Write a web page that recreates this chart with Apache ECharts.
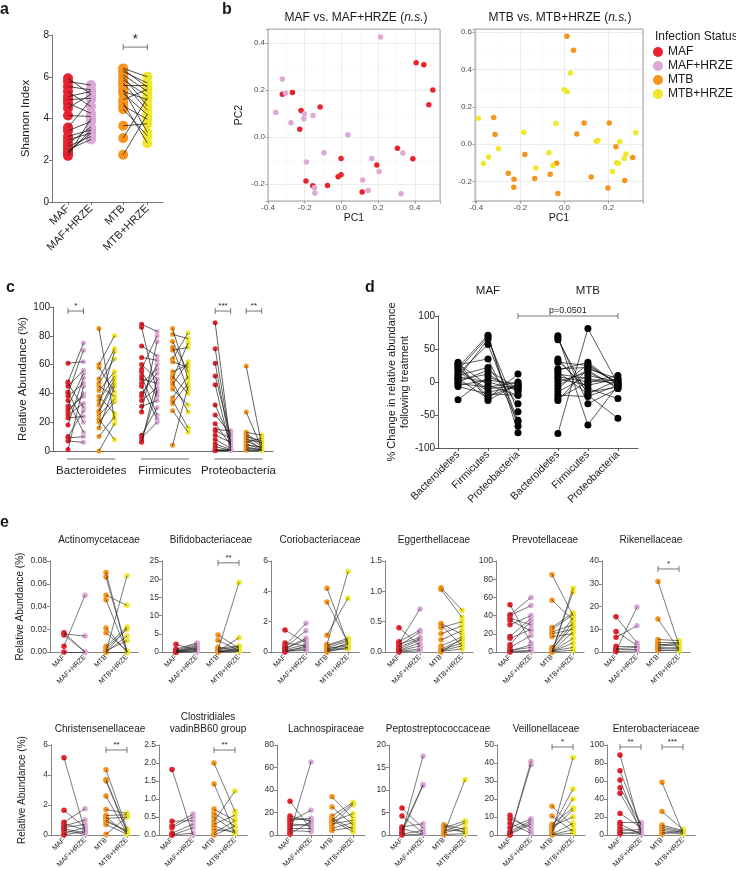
<!DOCTYPE html>
<html>
<head>
<meta charset="utf-8">
<script src="https://cdn.jsdelivr.net/npm/echarts@6/dist/echarts.min.js"></script>
<style>
  html, body { margin: 0; padding: 0; background: #fff; }
  #chart { width: 736px; height: 870px; }
</style>
</head>
<body>
<div id="chart"></div>
<script>
// panel a: Shannon index per subject, [before, after HRZE]
const shannonMAF = [[5.93, 5.16], [5.77, 5.6], [5.53, 5.37], [5.29, 4.57], [5.05, 5.3], [4.9, 4.97], [4.73, 4.25], [4.5, 5.16], [4.14, 4.1], [3.57, 4.9], [3.41, 3.86], [3.14, 3.46], [2.98, 3.3], [2.79, 3.6], [2.66, 3.14], [2.5, 3.0], [2.34, 3.46], [2.21, 4.0], [2.4, 3.3]]
const shannonMTB = [[6.4, 6.0], [6.35, 5.5], [6.25, 5.7], [6.1, 5.3], [6.0, 4.6], [5.85, 5.08], [5.7, 4.4], [5.6, 5.6], [5.4, 3.33], [5.3, 4.9], [5.2, 4.18], [4.9, 5.4], [4.75, 2.82], [4.6, 3.97], [4.45, 3.17], [3.65, 3.75], [3.06, 5.0], [2.26, 4.2]]

// panel b: PCoA coordinates [PC1, PC2]
const pcoaMAF = [[0.407, 0.316], [0.449, 0.308], [0.498, 0.2], [0.476, 0.138], [-0.322, 0.182], [-0.267, 0.19], [-0.22, 0.113], [-0.116, 0.128], [-0.227, 0.033], [0.305, -0.048], [0.389, -0.092], [-0.002, -0.091], [0.193, -0.119], [-0.002, -0.16], [-0.018, -0.169], [-0.193, -0.187], [-0.156, -0.207], [-0.076, -0.206], [0.113, -0.234]]
const pcoaMAFHRZE = [[0.213, 0.426], [-0.322, 0.247], [-0.304, 0.187], [-0.358, 0.105], [-0.275, 0.061], [-0.202, 0.099], [-0.205, 0.078], [-0.155, 0.092], [0.035, 0.01], [-0.095, -0.067], [-0.191, -0.106], [0.165, -0.091], [0.205, -0.146], [0.335, -0.068], [0.116, -0.183], [0.145, -0.227], [0.325, -0.241], [-0.147, -0.216], [-0.145, -0.238]]
const pcoaMTB = [[0.011, 0.577], [0.041, 0.502], [-0.321, 0.143], [-0.315, 0.052], [0.089, 0.113], [0.203, 0.113], [0.056, 0.055], [-0.18, -0.055], [-0.036, -0.102], [-0.065, -0.161], [-0.135, -0.184], [-0.255, -0.155], [-0.229, -0.188], [-0.23, -0.23], [-0.03, -0.264], [0.121, -0.175], [0.197, -0.234], [0.233, -0.014], [0.309, -0.071], [0.273, -0.195]]
const pcoaMTBHRZE = [[-0.391, 0.138], [0.027, 0.38], [-0.002, 0.291], [0.012, 0.28], [-0.039, 0.111], [-0.185, 0.064], [0.323, 0.061], [0.152, 0.02], [0.144, 0.016], [0.25, 0.013], [-0.3, -0.025], [-0.344, -0.068], [-0.368, -0.104], [-0.071, -0.046], [-0.052, -0.114], [-0.13, -0.127], [0.236, -0.1], [0.244, -0.102], [0.279, -0.052], [0.271, -0.077], [0.217, -0.146]]

// panel c: relative abundance (%) per subject, [before, after]
const bactMAF = [[61, 62], [48, 75], [47, 30], [45, 56], [41, 20], [40, 70], [38, 47], [35, 13], [31, 54], [29, 38], [27, 40], [25, 33], [23, 24], [18, 51], [10, 28], [9, 10], [7, 6], [1, 45]]
const bactMTB = [[85, 22], [60, 80], [58, 41], [50, 71], [47, 64], [45, 38], [42, 55], [38, 26], [35, 52], [32, 69], [28, 50], [27, 47], [25, 36], [20, 34], [16, 45], [10, 24], [0, 19], [22, 8]]
const firmMAF = [[88, 83], [86, 40], [73, 66], [65, 63], [60, 50], [57, 80], [55, 38], [52, 25], [50, 47], [47, 57], [45, 22], [40, 54], [38, 60], [35, 44], [31, 35], [27, 76], [11, 30], [9, 20], [7, 42], [6, 50]]
const firmMTB = [[85, 50], [81, 78], [76, 55], [72, 42], [70, 72], [64, 82], [62, 58], [55, 60], [52, 40], [50, 75], [48, 27], [46, 62], [43, 32], [37, 52], [35, 16], [33, 47], [28, 13], [4, 45]]
const proteoMAF = [[89, 3], [71, 5], [61, 2], [52, 10], [46, 1], [32, 7], [25, 12], [19, 4], [15, 14], [14, 9], [11, 6], [8, 2], [5, 1], [3, 0.5], [1, 0.3], [0.5, 1], [0.3, 0.2], [0.2, 0.5]]
const proteoMTB = [[59, 4], [27, 2], [13, 11], [12, 5], [11, 3], [10, 7], [9, 1], [8, 6], [7, 2], [6, 9], [5, 1], [4, 3], [3, 0.5], [2, 1], [1, 0.5], [0.5, 0.3]]

// panel d: % change per subject, [Bacteroidetes, Firmicutes, Proteobacteria]
const changeMAF = [[30, -28, -3], [28, -5, -20], [26, 35, -60], [24, -22, -5], [22, 71, -77], [20, -15, -8], [18, 68, -67], [15, -10, -6], [12, 57, -58], [10, 22, -33], [8, 0, -12], [6, 65, -45], [5, -25, 12], [3, 12, -15], [0, 18, -10], [-2, -8, 0], [-5, 3, -3], [-7, -18, -20], [-27, 8, -10]]
const changeMTB = [[70, -65, -5], [67, -33, -10], [64, -20, -55], [35, -15, -8], [32, -10, -25], [30, 25, -2], [20, 22, 0], [18, 30, -5], [15, -18, 3], [12, 5, -3], [8, 0, 10], [5, -5, 5], [0, 15, -8], [-5, 18, -10], [-10, 27, -3], [-15, 10, 0], [-20, -22, -5], [-25, 0, 3], [-28, 20, 5], [-78, 81, -3]]

// panel e: family relative abundance (%), [before, after]
const actinoMAF = [[0.017, 0], [0.016, 0.014], [0.015, 0], [0.005, 0.05], [0, 0]]
const actinoMTB = [[0.07, 0], [0.066, 0], [0.05, 0.041], [0.046, 0], [0.021, 0], [0.017, 0.001], [0, 0.067], [0.005, 0.022], [0.003, 0.02], [0, 0.014], [0.001, 0.01], [0, 0.021], [0, 0]]
const bifidoMAF = [[2.1, 0.5], [0.8, 2.5], [0.5, 2.2], [0.3, 1.8], [0.2, 1.5], [0.1, 1.2], [0.1, 1.0], [0, 0.8], [0, 0.5], [0, 0.3], [0, 0.1]]
const bifidoMTB = [[4.7, 1.0], [3.2, 0.4], [1.3, 0.2], [1.0, 1.7], [0.6, 1.5], [0.5, 19.1], [0.3, 3.9], [0.2, 1.2], [0.1, 0.8], [0.1, 0.6], [0, 0.3], [0, 0.2]]
const corioMAF = [[1.45, 0.6], [0.6, 0.4], [0.4, 1.9], [0.3, 1.4], [0.25, 0.9], [0.2, 0.8], [0.15, 0.5], [0.1, 0.3], [0.05, 0.2], [0.05, 0.1], [0, 0.4]]
const corioMTB = [[4.2, 0.5], [3.3, 0.6], [1.1, 3.55], [0.5, 5.3], [0.45, 0.9], [0.4, 0.8], [0.3, 0.7], [0.25, 0.4], [0.2, 0.5], [0.15, 0.3], [0.1, 0.2], [0.05, 0.6], [0, 0.3]]
const eggerMAF = [[0.4, 0.1], [0.17, 0.36], [0.15, 0.71], [0.13, 0.24], [0.1, 0.33], [0.08, 0.22], [0.05, 0.2], [0.03, 0.15], [0.01, 0.05], [0, 0.02], [0.02, 0.1]]
const eggerMTB = [[1.06, 0.69], [1.03, 0.57], [0.47, 0.29], [0.4, 0.5], [0.3, 0.43], [0.2, 0.35], [0.1, 0.25], [0.05, 0.2], [0.03, 0.15], [0.02, 0.1], [0.01, 0.05], [0, 0.22], [0.45, 0.1]]
const prevoMAF = [[52, 10], [41, 60], [40, 51], [37, 30], [35, 23], [30, 40], [17, 37], [15, 25], [8, 34], [5, 18], [2, 5], [1, 8], [0.5, 2], [0, 1]]
const prevoMTB = [[85, 40], [57, 35], [27, 43], [25, 41], [22, 30], [20, 25], [17, 20], [5, 38], [3, 28], [1, 22], [0.5, 15], [0, 70], [0, 66], [0.3, 10], [1, 5], [0, 2], [2, 33]]
const rikenMAF = [[15.5, 4], [9, 3], [6.5, 11.5], [2.5, 2.5], [1.5, 2], [1, 1], [0.5, 19.8], [0.2, 0.5]]
const rikenMTB = [[31, 3], [14.5, 1], [5.5, 5], [4.5, 4.5], [3.5, 2.5], [3, 4], [2.5, 3.5], [2, 1.5], [1.5, 2], [1, 0.5], [0.5, 1]]
const christMAF = [[5.15, 0.25], [1.65, 0.5], [0.85, 1.75], [0.75, 0.35], [0.6, 1.0], [0.5, 0.7], [0.4, 0.15], [0.3, 0.05], [0.1, 0.5], [0, 0.25]]
const christMTB = [[4.35, 0.4], [3.7, 0.3], [3.6, 0.2], [2.6, 0.1], [1.7, 1.45], [1.3, 1.35], [1.1, 1.2], [0.9, 0.3], [0.7, 0.05], [0.05, 1.2], [1.2, 0.1], [1.0, 0.2]]
const clostMAF = [[1.82, 0], [0.38, 0.4], [0.25, 0.58], [0.2, 0.5], [0.05, 0.3], [0, 0.2], [0, 0.05]]
const clostMTB = [[2.0, 0.65], [1.42, 0.05], [0.72, 0.4], [0.6, 0.25], [0.5, 0.1], [0.38, 1.22], [0.3, 0.55], [0.25, 0.05], [0.15, 0.1], [0.05, 0.4], [0, 0.25]]
const lachnoMAF = [[30, 5], [17, 12], [15, 13], [13, 15], [12, 22], [10, 8], [8, 10], [6, 6], [4, 3], [2, 65], [1, 12]]
const lachnoMTB = [[34, 15], [25, 9], [17, 29], [15, 5], [13, 28], [12, 19], [10, 13], [8, 27], [6, 11], [4, 7], [13, 3]]
const peptoMAF = [[6, 1.5], [4.2, 0.5], [1.8, 2.5], [1.4, 0.2], [1.0, 11.2], [0.5, 11], [0.3, 17.5], [0.2, 1.0], [0, 0.2]]
const peptoMTB = [[2.3, 1.2], [2.0, 0.5], [1.6, 3.1], [1.2, 0.8], [0.8, 2.7], [0.5, 1.6], [0.3, 12.3], [0.1, 0.3]]
const veilloMAF = [[11, 2], [9, 4], [6.5, 1], [4, 9], [2, 8], [1, 7], [0.5, 6], [0, 41], [0.2, 39]]
const veilloMTB = [[16, 5], [10.5, 2], [6, 15], [5, 10], [4, 25.5], [3, 14], [2, 20], [1, 43], [0.5, 6.5], [0.2, 3], [0.1, 1]]
const enteroMAF = [[89, 4], [71.5, 10], [61, 2], [52.5, 12], [46.5, 6], [24, 8], [14, 14], [12, 1], [8, 2], [5, 6], [3, 1], [1, 4]]
const enteroMTB = [[58.5, 2], [26, 6], [11, 5], [9, 4], [7, 3], [5, 2], [3, 1], [1, 5]]

const groups = ['MAF', 'MAF+HRZE', 'MTB', 'MTB+HRZE']
const phyla = ['Bacteroidetes', 'Firmicutes', 'Proteobacteria']

const families = [
  { title: 'Actinomycetaceae', maf: actinoMAF, mtb: actinoMTB, max: 0.08, step: 0.02, digits: 2, sig: [] },
  { title: 'Bifidobacteriaceae', maf: bifidoMAF, mtb: bifidoMTB, max: 25, step: 5, digits: 0, sig: [[2, 3, 24.5, '**']] },
  { title: 'Coriobacteriaceae', maf: corioMAF, mtb: corioMTB, max: 6, step: 2, digits: 0, sig: [] },
  { title: 'Eggerthellaceae', maf: eggerMAF, mtb: eggerMTB, max: 1.5, step: 0.5, digits: 1, sig: [] },
  { title: 'Prevotellaceae', maf: prevoMAF, mtb: prevoMTB, max: 100, step: 20, digits: 0, sig: [] },
  { title: 'Rikenellaceae', maf: rikenMAF, mtb: rikenMTB, max: 40, step: 10, digits: 0, sig: [[2, 3, 36.5, '*']] },
  { title: 'Christensenellaceae', maf: christMAF, mtb: christMTB, max: 6, step: 2, digits: 0, sig: [[2, 3, 5.67, '**']] },
  { title: 'Clostridiales\nvadinBB60 group', maf: clostMAF, mtb: clostMTB, max: 2.5, step: 0.5, digits: 1, sig: [[2, 3, 2.36, '**']] },
  { title: 'Lachnospiraceae', maf: lachnoMAF, mtb: lachnoMTB, max: 80, step: 20, digits: 0, sig: [] },
  { title: 'Peptostreptococcaceae', maf: peptoMAF, mtb: peptoMTB, max: 20, step: 5, digits: 0, sig: [] },
  { title: 'Veillonellaceae', maf: veilloMAF, mtb: veilloMTB, max: 50, step: 10, digits: 0, sig: [[2, 3, 48.9, '*']] },
  { title: 'Enterobacteriaceae', maf: enteroMAF, mtb: enteroMTB, max: 100, step: 20, digits: 0, sig: [[0, 1, 97.8, '**'], [2, 3, 97.8, '***']] },
]

const font = '"Liberation Sans", Arial, sans-serif'
const ink = '#1a1a1a'
const colors = ['#e8232d', '#dca8d6', '#f7941e', '#f0e62a']

const grids = []
const xAxes = []
const yAxes = []
const series = []
const titles = []

function addGrid(rect, x, y) {
  grids.push(Object.assign({ containLabel: false, outerBoundsMode: 'none' }, rect))
  x.gridIndex = y.gridIndex = grids.length - 1
  xAxes.push(x)
  yAxes.push(y)
  return { x: xAxes.length - 1, y: yAxes.length - 1 }
}

function nearest(list, v) {
  let best = 0
  list.forEach((t, i) => { if (Math.abs(t - v) < Math.abs(list[best] - v)) best = i })
  return best
}

function catAxis(min, max, ticks, names, o) {
  return {
    type: 'value', min, max,
    axisLine: { show: true, onZero: false, lineStyle: { color: o.line, width: 0.8 } },
    axisTick: { show: o.tick !== false, customValues: ticks, length: 3, lineStyle: { color: o.line, width: 0.8 } },
    axisLabel: { customValues: ticks, formatter: v => names[nearest(ticks, v)], rotate: o.rotate || 0, fontSize: o.size, color: ink, fontFamily: font, margin: o.margin },
    splitLine: { show: false },
  }
}

function valAxis(min, max, step, o) {
  return {
    type: 'value', min, max, interval: step,
    axisLine: { show: true, onZero: false, lineStyle: { color: o.line, width: 0.8 } },
    axisTick: { show: true, length: 3, lineStyle: { color: o.line, width: 0.8 } },
    axisLabel: { fontSize: o.size, color: o.color || ink, fontFamily: font, margin: 3, formatter: v => v.toFixed(o.digits || 0) },
    splitLine: { show: false },
    name: o.name || '', nameLocation: 'middle', nameGap: o.nameGap || 20,
    nameTextStyle: { fontSize: o.nameSize || 11, color: ink, fontFamily: font, lineHeight: (o.nameSize || 11) + 2 },
  }
}

function label(text, x, y, size, extra) {
  titles.push({
    text, left: x, top: y, padding: 0, textAlign: (extra && extra.align) || 'center',
    textStyle: Object.assign({ fontSize: size, fontWeight: 'normal', color: ink, fontFamily: font, lineHeight: size + 2 }, extra && extra.style),
  })
}

function dots(ax, data, color, size, name) {
  series.push({
    type: 'scatter', name, xAxisIndex: ax.x, yAxisIndex: ax.y, data, symbolSize: size,
    clip: false, silent: true, z: 2, itemStyle: { color, opacity: 1 },
  })
}

function pairSeries(ax, pairs, x0, x1, c0, c1, size, lineWidth) {
  series.push({
    type: 'lines', coordinateSystem: 'cartesian2d', xAxisIndex: ax.x, yAxisIndex: ax.y,
    silent: true, clip: false, z: 3,
    lineStyle: { color: '#222', width: lineWidth, opacity: 1, curveness: 0 },
    data: pairs.map(p => ({ coords: [[x0, p[0]], [x1, p[1]]] })),
  })
  dots(ax, pairs.map(p => [x0, p[0]]), c0, size)
  dots(ax, pairs.map(p => [x1, p[1]]), c1, size)
}

function bracket(ax, x0, x1, y, text, size) {
  series.push({
    type: 'custom', xAxisIndex: ax.x, yAxisIndex: ax.y, silent: true, z: 5,
    data: [[x0, x1, y]],
    renderItem: (params, api) => {
      const a = api.coord([api.value(0), api.value(2)])
      const b = api.coord([api.value(1), api.value(2)])
      const st = { stroke: '#555', lineWidth: 0.8 }
      return {
        type: 'group', children: [
          { type: 'line', shape: { x1: a[0], y1: a[1], x2: b[0], y2: b[1] }, style: st },
          { type: 'line', shape: { x1: a[0], y1: a[1] - 3, x2: a[0], y2: a[1] + 3 }, style: st },
          { type: 'line', shape: { x1: b[0], y1: b[1] - 3, x2: b[0], y2: b[1] + 3 }, style: st },
          { type: 'text', x: (a[0] + b[0]) / 2, y: a[1] - 1, style: { text, fill: ink, fontSize: size, fontFamily: font, align: 'center', verticalAlign: 'bottom' } },
        ],
      }
    },
  })
}

// panel letters
const letter = { fontWeight: 'bold', fontFamily: '"Liberation Sans Narrow", "Liberation Sans", sans-serif' }
label('a', 0, 1, 16, { align: 'left', style: letter })
label('b', 222, 1, 16, { align: 'left', style: letter })
label('c', 6, 279, 16, { align: 'left', style: letter })
label('d', 365, 279, 16, { align: 'left', style: letter })
label('e', 0, 514, 16, { align: 'left', style: letter })

// a
const shannonX = [1, 2, 3.4, 4.45]
const axA = addGrid({ left: 52, top: 35, width: 111, height: 167 },
  catAxis(0.304, 5.13, shannonX, groups, { line: '#555', rotate: 45, size: 11, margin: 5 }),
  valAxis(0, 8, 2, { line: '#555', size: 10, name: 'Shannon Index', nameGap: 19, nameSize: 11.5 }))
pairSeries(axA, shannonMAF, shannonX[0], shannonX[1], colors[0], colors[1], 10, 0.8)
pairSeries(axA, shannonMTB, shannonX[2], shannonX[3], colors[2], colors[3], 10, 0.8)
bracket(axA, shannonX[2], shannonX[3], 7.42, '*', 13)

// b
function pcAxis(min, max, o) {
  return {
    type: 'value', min, max, splitNumber: 4,
    axisLine: { show: false, onZero: false },
    axisTick: { show: true, length: 2.5, lineStyle: { color: '#666', width: 0.6 } },
    axisLabel: { fontSize: 8, color: '#4d4d4d', fontFamily: font, margin: 3,
      formatter: v => Math.abs(v / 0.2 - Math.round(v / 0.2)) < 1e-6 ? v.toFixed(1) : '' },
    splitLine: { show: true, lineStyle: { color: '#e4e4e4', width: 0.7 } },
    minorTick: { show: false, splitNumber: 2 },
    minorSplitLine: { show: true, lineStyle: { color: '#f3f3f3', width: 0.5 } },
    name: o.name || '', nameLocation: 'middle', nameGap: o.gap,
    nameTextStyle: { fontSize: 10.5, color: ink, fontFamily: font },
  }
}
const boxGrid = { show: true, borderColor: '#8a8a8a', borderWidth: 0.8, backgroundColor: 'transparent', z: 1 }
const axB1 = addGrid(Object.assign({ left: 268, top: 29, width: 172, height: 172 }, boxGrid),
  pcAxis(-0.4, 0.537, { name: 'PC1', gap: 12 }), pcAxis(-0.272, 0.46, { name: 'PC2', gap: 23 }))
const axB2 = addGrid(Object.assign({ left: 475, top: 29, width: 168, height: 172 }, boxGrid),
  pcAxis(-0.406, 0.356, { name: 'PC1', gap: 12 }), pcAxis(-0.304, 0.616, { gap: 20 }))
dots(axB1, pcoaMAF, colors[0], 5.5, groups[0])
dots(axB1, pcoaMAFHRZE, colors[1], 5.5, groups[1])
dots(axB2, pcoaMTB, colors[2], 5.5, groups[2])
dots(axB2, pcoaMTBHRZE, colors[3], 5.5, groups[3])
const italic = { rich: { i: { fontStyle: 'italic', fontSize: 12, fontFamily: font, color: ink } } }
label('MAF vs. MAF+HRZE ({i|n.s.})', 356, 11, 12, { style: italic })
label('MTB vs. MTB+HRZE ({i|n.s.})', 560, 11, 12, { style: italic })
label('Infection Status', 655, 30, 12, { align: 'left' })

// c
const phylumX = [[0, 1, 2, 3], [4.75, 5.75, 6.75, 7.75], [9.5, 10.5, 11.5, 12.5]]
const axC = addGrid({ left: 53, top: 307, width: 220, height: 144 },
  catAxis(-0.968, 13.23, phylumX.map(g => (g[0] + g[3]) / 2), phyla, { line: '#444', tick: false, size: 11.5, margin: 14 }),
  valAxis(0, 100, 20, { line: '#444', size: 10, name: 'Relative Abundance (%)', nameGap: 18, nameSize: 11.5 }))
const phylumPairs = [[bactMAF, bactMTB], [firmMAF, firmMTB], [proteoMAF, proteoMTB]]
phylumPairs.forEach((p, g) => {
  const xs = phylumX[g]
  pairSeries(axC, p[0], xs[0], xs[1], colors[0], colors[1], 5, 0.7)
  pairSeries(axC, p[1], xs[2], xs[3], colors[2], colors[3], 5, 0.7)
})
series.push({
  type: 'custom', xAxisIndex: axC.x, yAxisIndex: axC.y, silent: true, z: 5,
  data: phylumX.map(g => [g[0] - 0.05, g[3] + 0.05]),
  renderItem: (params, api) => {
    const a = api.coord([api.value(0), 0])
    const b = api.coord([api.value(1), 0])
    return { type: 'line', shape: { x1: a[0], y1: a[1] + 8, x2: b[0], y2: b[1] + 8 }, style: { stroke: '#444', lineWidth: 0.8 } }
  },
})
bracket(axC, 0, 1, 97.2, '*', 8)
bracket(axC, 9.5, 10.5, 97.2, '***', 8)
bracket(axC, 11.5, 12.5, 97.2, '**', 8)

// d
const changeX = [0, 1, 2, 3.33, 4.33, 5.33]
const axD = addGrid({ left: 438, top: 316, width: 200, height: 132 },
  catAxis(-0.667, 6, changeX, phyla.concat(phyla), { line: '#333', rotate: 45, size: 10.5, margin: 5 }),
  valAxis(-100, 100, 50, { line: '#333', size: 10, name: '% Change in relative abundance\nfollowing treatment', nameGap: 27, nameSize: 11 }))
xAxes.push({
  type: 'value', gridIndex: grids.length - 1, position: 'top', min: -0.667, max: 6,
  axisLine: { show: false }, axisTick: { show: false }, splitLine: { show: false },
  axisLabel: { customValues: [1, 4.33], formatter: v => (v < 3 ? 'MAF' : 'MTB'), fontSize: 11.5, color: ink, fontFamily: font, margin: 19 },
})
;[changeMAF, changeMTB].forEach((rows, g) => {
  const xs = changeX.slice(g * 3, g * 3 + 3)
  series.push({
    type: 'lines', coordinateSystem: 'cartesian2d', polyline: true, xAxisIndex: axD.x, yAxisIndex: axD.y,
    silent: true, clip: false, z: 3, lineStyle: { color: '#111', width: 0.7, opacity: 1 },
    data: rows.map(r => ({ coords: r.map((v, k) => [xs[k], v]) })),
  })
  xs.forEach((x, k) => dots(axD, rows.map(r => [x, r[k]]), '#000', 7))
})
bracket(axD, 2, 5.33, 100, 'p=0.0501', 9)

// e
const famLeft = [50, 162, 271, 385, 496, 602, 51, 159, 277, 389, 497, 607]
const rowTop = [561, 745]
const rowHeight = [91, 90]
const rowOffset = [14, 13]
families.forEach((f, i) => {
  const row = i < 6 ? 0 : 1
  const min = -rowOffset[row] / 21
  const first = i % 6 === 0
  const ax = addGrid({ left: famLeft[i], top: rowTop[row], width: 88, height: rowHeight[row] },
    catAxis(min, min + 88 / 21, [0, 1, 2, 3], groups, { line: '#666', rotate: 45, size: 7, margin: 4 }),
    valAxis(0, f.max, f.step, { line: '#666', size: 8.5, color: '#333', digits: f.digits,
      name: first ? 'Relative Abundance (%)' : '', nameGap: 23, nameSize: 10 }))
  pairSeries(ax, f.maf, 0, 1, colors[0], colors[1], 5.5, 0.6)
  pairSeries(ax, f.mtb, 2, 3, colors[2], colors[3], 5.5, 0.6)
  f.sig.forEach(s => bracket(ax, s[0], s[1], s[2], s[3], 8))
  const lines = f.title.split('\n').length
  label(f.title, famLeft[i] + 49, (row === 0 ? 534 : 723) - (lines - 1) * 12, 10)
})

const chart = echarts.init(document.getElementById('chart'), null, { renderer: 'canvas' })
chart.setOption({
  animation: false,
  backgroundColor: '#fff',
  textStyle: { fontFamily: font },
  title: titles,
  legend: {
    data: groups, orient: 'vertical', left: 653, top: 45, icon: 'circle', itemWidth: 10, itemHeight: 10,
    itemGap: 0, padding: 0, selectedMode: false,
    textStyle: { fontSize: 12, color: ink, fontFamily: font, lineHeight: 14 },
  },
  grid: grids,
  xAxis: xAxes,
  yAxis: yAxes,
  series,
})
</script>
</body>
</html>
